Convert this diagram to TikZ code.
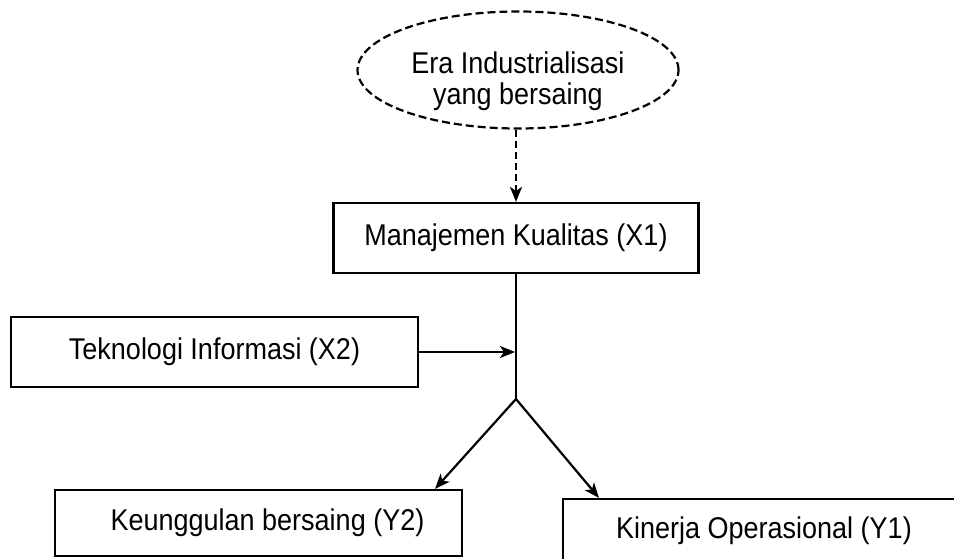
\documentclass[tikz,border=0pt]{standalone}
\usepackage{fontspec}
\setmainfont{Liberation Sans}[FakeStretch=0.9]
\usetikzlibrary{shapes.geometric,arrows.meta,calc}
\begin{document}
\begin{tikzpicture}[x=1pt,y=-1pt,
  txt/.style={font=\fontsize{30}{30}\selectfont},
  box/.style={draw,line width=2.2pt,inner sep=0pt,txt},
  cloud/.style={draw,ellipse,dash pattern=on 8pt off 4pt,line width=2.2pt,inner sep=0pt,txt},
  conn/.style={line width=2.2pt,-{Stealth[length=15pt,width=12pt,inset=4pt]}},
  plain/.style={line width=2.2pt}
]
\clip (0,0) rectangle (954,559);
\fill[white] (0,0) rectangle (954,559);

\node[cloud,minimum width=321pt,minimum height=117pt] (E) at (518,70) {\raisebox{-19pt}[0pt][0pt]{\begin{tabular}{@{}c@{}}Era Industrialisasi\\yang bersaing\end{tabular}}};
\node[box,minimum width=365pt,minimum height=70pt] (X1) at (516,238) {Manajemen Kualitas (X1)};
\node[box,minimum width=407pt,minimum height=70pt] (X2) at (214.5,352) {Teknologi Informasi (X2)};
\node[box,minimum width=407pt,minimum height=66pt] (Y2) at (258.5,523) {\hspace*{18pt}Keunggulan bersaing (Y2)};
\node[box,minimum width=402pt,minimum height=63pt] (Y1) at (764,530.5) {Kinerja Operasional (Y1)};

\coordinate (F) at (516,399);
\coordinate (J) at (515,352);
\coordinate (TL) at ($(Y2.north)+(176.5,0)$);
\coordinate (TR) at ($(Y1.north)+(-165,0)$);

\draw[conn,dash pattern=on 7pt off 4pt] (E.south -| X1.north) -- (X1.north);
\draw[plain] (X1.south) -- (F);
\draw[conn] (X2.east) -- (J);
\draw[conn] (F) -- (TL);
\draw[conn] (F) -- (TR);
\end{tikzpicture}
\end{document}
